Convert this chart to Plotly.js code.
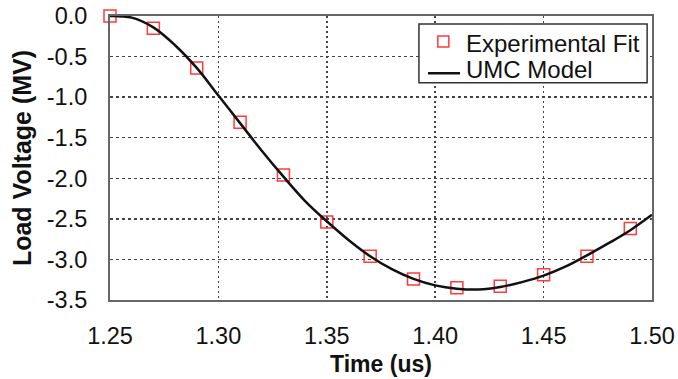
<!DOCTYPE html>
<html>
<head>
<meta charset="utf-8">
<script src="https://cdn.plot.ly/plotly-3.0.1.min.js"></script>
<style>html,body{margin:0;padding:0;background:#fff;}#chart{width:678px;height:379px;}</style>
</head>
<body>
<div id="chart"></div>
<script>
// Experimental fit points
const expTime = [1.25, 1.27, 1.29, 1.31, 1.33, 1.35, 1.37, 1.39, 1.41, 1.43, 1.45, 1.47, 1.49];
const expVoltage = [0.0, -0.15, -0.64, -1.31, -1.96, -2.54, -2.96, -3.24, -3.35, -3.33, -3.19, -2.96, -2.62];

// UMC model curve
const modelTime = [1.25, 1.26, 1.27, 1.28, 1.29, 1.30, 1.31, 1.32, 1.33, 1.34, 1.35, 1.36, 1.37, 1.38, 1.39, 1.40, 1.41, 1.42, 1.43, 1.44, 1.45, 1.46, 1.47, 1.48, 1.49, 1.50];
const modelVoltage = [0.0, -0.02, -0.14, -0.36, -0.64, -0.98, -1.32, -1.66, -1.98, -2.28, -2.53, -2.76, -2.96, -3.12, -3.24, -3.32, -3.36, -3.37, -3.34, -3.28, -3.20, -3.09, -2.95, -2.80, -2.64, -2.45];

const xTicks = [1.25, 1.30, 1.35, 1.40, 1.45, 1.50];
const xTickText = ['1.25', '1.30', '1.35', '1.40', '1.45', '1.50'];
const yTicks = [0.0, -0.5, -1.0, -1.5, -2.0, -2.5, -3.0, -3.5];
const yTickText = ['0.0', '-0.5', '-1.0', '-1.5', '-2.0', '-2.5', '-3.0', '-3.5'];

const seriesNames = ['Experimental Fit', 'UMC Model'];

const FONT = 'Liberation Sans, Arial, sans-serif';
const RED = '#ff3b3b';

const traces = [
  {
    x: expTime, y: expVoltage, name: seriesNames[0], type: 'scatter', mode: 'markers',
    marker: {symbol: 'square-open', size: 12, color: RED, line: {width: 1.5, color: RED}},
    cliponaxis: false, showlegend: false
  },
  {
    x: modelTime, y: modelVoltage, name: seriesNames[1], type: 'scatter', mode: 'lines',
    line: {color: '#111', width: 2.5, shape: 'spline', smoothing: 1}, showlegend: false
  }
];

// legend drawn by hand (box, symbols, labels) to match the compact row spacing
const shapes = [
  {type: 'rect', xref: 'paper', yref: 'paper', x0: 0.570, x1: 0.991, y0: 0.765, y1: 0.972,
   fillcolor: '#fff', line: {color: '#333', width: 1.5}, layer: 'above'},
  {type: 'rect', xref: 'paper', yref: 'paper', xsizemode: 'pixel', ysizemode: 'pixel',
   xanchor: 0.6150, yanchor: 0.910, x0: -5.5, x1: 5.5, y0: -5.5, y1: 5.5,
   fillcolor: 'rgba(0,0,0,0)', line: {color: RED, width: 1.5}, layer: 'above'},
  {type: 'line', xref: 'paper', yref: 'paper', x0: 0.5867, x1: 0.6458, y0: 0.798, y1: 0.798,
   line: {color: '#111', width: 2.5}, layer: 'above'}
];
const annotations = [
  {xref: 'paper', yref: 'paper', x: 0.654, y: 0.903, xanchor: 'left', yanchor: 'middle',
   text: seriesNames[0], showarrow: false, font: {family: FONT, size: 24, color: '#111'}},
  {xref: 'paper', yref: 'paper', x: 0.654, y: 0.810, xanchor: 'left', yanchor: 'middle',
   text: seriesNames[1], showarrow: false, font: {family: FONT, size: 24, color: '#111'}}
];

const layout = {
  width: 678, height: 379,
  margin: {l: 110, r: 26, t: 16, b: 79},
  paper_bgcolor: '#fff', plot_bgcolor: '#fff',
  font: {family: FONT, size: 23, color: '#111'},
  showlegend: false,
  shapes: shapes,
  annotations: annotations,
  xaxis: {
    range: [1.25, 1.50], tickvals: xTicks, ticktext: xTickText,
    showline: true, linecolor: '#666', linewidth: 2, mirror: true,
    showgrid: true, gridcolor: '#444', gridwidth: 1.5, griddash: '2px,3px',
    zeroline: false, ticks: '', ticklabelstandoff: 14,
    tickfont: {family: FONT, size: 23.5, color: '#111'},
    title: {text: '<b>Time (us)</b>', font: {family: FONT, size: 23, color: '#111'}, standoff: 8}
  },
  yaxis: {
    range: [-3.5, 0], tickvals: yTicks, ticktext: yTickText,
    showline: true, linecolor: '#666', linewidth: 2, mirror: true,
    showgrid: true, gridcolor: '#444', gridwidth: 1.5, griddash: '3px,3px',
    zeroline: false, ticks: '', ticklabelstandoff: 16,
    tickfont: {family: FONT, size: 23.5, color: '#111'},
    title: {text: '<b>Load Voltage (MV)</b>', font: {family: FONT, size: 25, color: '#111'}, standoff: 8}
  }
};

Plotly.newPlot('chart', traces, layout, {displayModeBar: false, staticPlot: true});
</script>
</body>
</html>
